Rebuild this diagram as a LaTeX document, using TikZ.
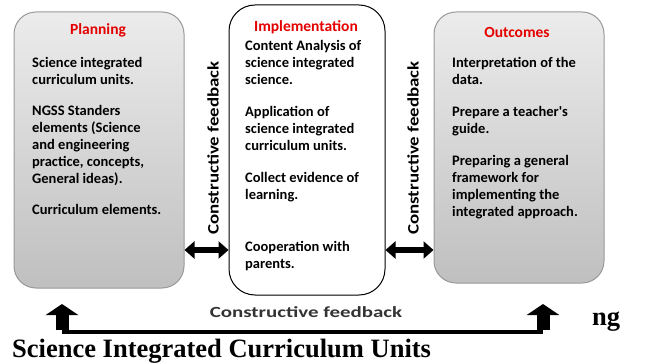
\documentclass[tikz,border=0pt]{standalone}
\usepackage{fontspec}
\setmainfont{Liberation Serif}
\newfontfamily\boxfont{Carlito}
\newfontfamily\sidefont[FakeStretch=1.18]{Carlito}
\newfontfamily\widefont[FakeStretch=1.35]{Carlito}
\usetikzlibrary{arrows.meta}

\begin{document}
\begin{tikzpicture}[x=1pt, y=-1pt, stage/.style={rectangle, rounded corners=22pt, inner sep=0pt}, grey stage/.style={stage, draw=gray!80, line width=1pt, top color=gray!15, bottom color=gray!50}, white stage/.style={stage, draw=black, line width=1pt, fill=white, rounded corners=26pt}, title/.style={font=\boxfont\bfseries\fontsize{15.5}{17}\selectfont, text=red!90!black}, body/.style={font=\boxfont\bfseries\fontsize{14.5}{17}\selectfont, align=left, anchor=north west, inner sep=0pt}, sidelabel/.style={font=\sidefont\bfseries\fontsize{16}{17}\selectfont, rotate=90}, dblarrow/.style={line width=6pt, {Triangle[width=17pt,length=10pt]}-{Triangle[width=17pt,length=10pt]}}, uparrow/.style={line width=13pt, -{Triangle[width=32pt,length=11pt]}}]
  \useasboundingbox (0,0) rectangle (650,363);

  % the three stages
  \node[grey stage, minimum width=170pt, minimum height=276pt] (plan) at (99,150) {};
  \node[white stage, minimum width=156pt, minimum height=290pt] (impl) at (307,150) {};
  \node[grey stage, minimum width=170pt, minimum height=271pt] (outc) at (519,147.5) {};

  \node[title] (plantitle) at (98,30) {Planning};
  \node[title] (impltitle) at (306,27) {Implementation};
  \node[title] (outctitle) at (517,32) {Outcomes};

  \node[body] (plantext) at (32,57) {Science integrated\\ curriculum units.\\[14pt] NGSS Standers\\ elements (Science\\ and engineering\\ practice, concepts,\\ General ideas).\\[14pt] Curriculum elements.};
  \node[body] (impltext) at (245,40) {Content Analysis of\\ science integrated\\ science.\\[15pt] Application of\\ science integrated\\ curriculum units.\\[15pt] Collect evidence of\\ learning.\\[35pt] Cooperation with\\ parents.};
  \node[body] (outctext) at (452,57) {Interpretation of the\\ data.\\[15pt] Prepare a teacher's\\ guide.\\[15pt] Preparing a general\\ framework for\\ implementing the\\ integrated approach.};

  % feedback between stages
  \node[sidelabel] (fbleft) at (213,148) {Constructive feedback};
  \node[sidelabel] (fbright) at (413,148) {Constructive feedback};
  \coordinate (arrowrow) at (0,250);
  \draw[dblarrow] (plan.east |- arrowrow) -- (impl.west |- arrowrow);
  \draw[dblarrow] (impl.east |- arrowrow) -- (outc.west |- arrowrow);

  % feedback from outcomes back to planning
  \coordinate (fbL) at (62,330);
  \coordinate (fbR) at (543,330);
  \coordinate (tipL) at (62,304);
  \coordinate (tipR) at (543,304);
  \draw[line width=4pt] ([yshift=-2pt]fbL) -- ([yshift=-2pt]fbR);
  \draw[uparrow] (fbL) -- (tipL);
  \draw[uparrow] (fbR) -- (tipR);
  \node[font=\widefont\bfseries\fontsize{15.5}{17}\selectfont, text=black!80] (fbbottom) at (306,312) {Constructive feedback};

  \node[font=\bfseries\fontsize{26.5}{28}\selectfont, anchor=base west, inner sep=0pt] (cut) at (592,325) {ng};
  \node[font=\bfseries\fontsize{26.5}{28}\selectfont, anchor=base west, inner sep=0pt] (caption) at (12,357) {Science Integrated Curriculum Units};
\end{tikzpicture}
\end{document}
